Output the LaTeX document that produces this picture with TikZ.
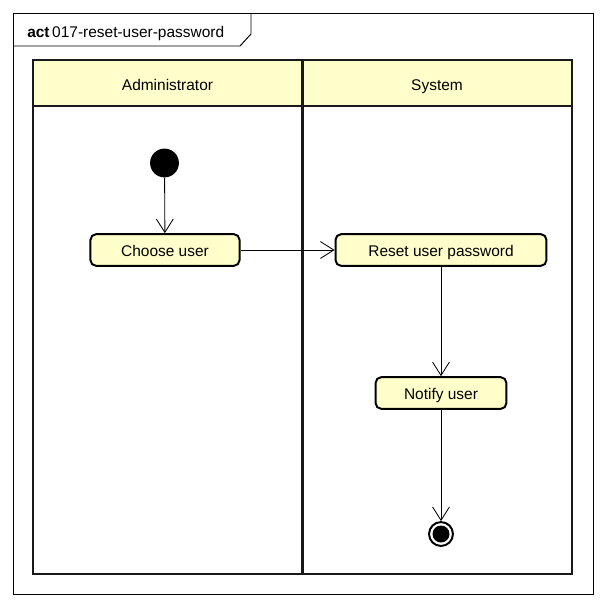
\documentclass[tikz,border=0pt]{standalone}
\usepackage{fontspec}
\setmainfont{Liberation Sans}
\usetikzlibrary{arrows.meta}
\definecolor{umlyellow}{RGB}{255,255,204}

\begin{document}
\begin{tikzpicture}[x=0.025cm,y=-0.025cm,->,>={Straight Barb[length=9.5pt,width=12pt]},
    font=\fontsize{11}{13}\selectfont,
    label text/.style={text height=1.9ex,text depth=.1ex},
    action/.style={draw,fill=umlyellow,rounded corners=4pt,line width=1.4pt,inner sep=0pt,label text},
    lane/.style={draw=black!90,line width=1.7pt},
    flow/.style={line width=0.6pt}]
  \useasboundingbox (0,0) rectangle (606,608);
  % frame and its tab
  \draw[-,line width=0.7pt] (13,13) rectangle (593,594);
  \draw[-,line width=0.7pt] (13,46) -- (240,46) -- (251,34) -- (251,13);
  \node[anchor=base west,inner sep=0pt] (title) at (27,37) {\textbf{act}\,017-reset-user-password};
  % swimlanes
  \fill[umlyellow] (33,60) rectangle (572,106);
  \draw[-,lane] (33,60) rectangle (572,574);
  \draw[-,lane] (33,106) -- (572,106);
  \draw[-,lane] (302.5,60) -- (302.5,574);
  \node[label text] (admin) at (167.5,84) {Administrator};
  \node[label text] (system) at (437,84) {System};
  % nodes
  \node[circle,fill=black,inner sep=0pt,minimum size=20.5pt] (start) at (164.5,163) {};
  \node[action,minimum width=106pt,minimum height=22.5pt] (choose) at (165,250) {Choose user};
  \node[action,minimum width=150pt,minimum height=22.5pt] (reset) at (441,250) {Reset user password};
  \node[action,minimum width=93pt,minimum height=22.5pt] (notify) at (441,393) {Notify user};
  \node[circle,draw,line width=1.4pt,minimum size=17pt,inner sep=0pt] (stop) at (441,534) {};
  \fill (stop.center) circle (8.5);
  % flows
  \draw[flow] (start) -- (choose);
  \draw[flow] (choose) -- (reset);
  \draw[flow] (reset) -- (notify);
  \draw[flow] (notify) -- (stop);
\end{tikzpicture}
\end{document}
